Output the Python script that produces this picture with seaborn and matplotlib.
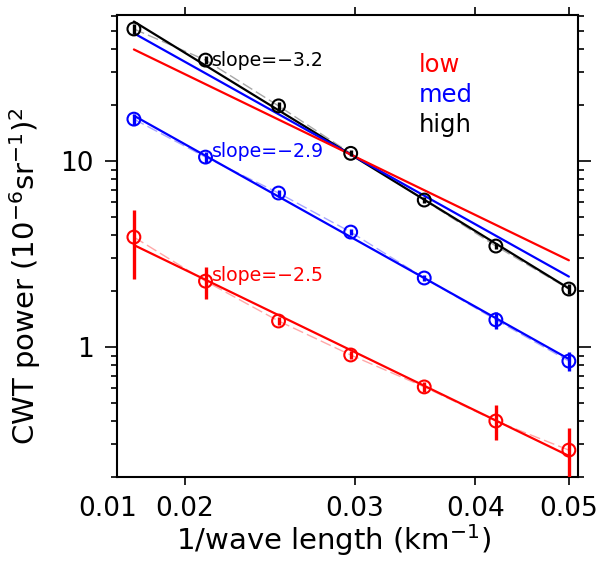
import numpy as np
import pandas as pd
import matplotlib
matplotlib.use("Agg")
import matplotlib.pyplot as plt
import seaborn as sns
from matplotlib.ticker import FixedLocator, NullLocator, LogLocator, NullFormatter
from matplotlib.transforms import ScaledTranslation

# ---------------- data ----------------
inv_wavelength = [0.0177, 0.0210, 0.0250, 0.0297, 0.0354, 0.0420, 0.0500]
power_low = [3.90, 2.26, 1.38, 0.906, 0.61, 0.40, 0.279]
err_low = [1.58, 0.44, 0.07, 0.045, 0.04, 0.085, 0.088]
power_med = [16.8, 10.5, 6.73, 4.15, 2.35, 1.40, 0.84]
err_med = [1.2, 0.7, 0.3, 0.15, 0.08, 0.15, 0.10]
power_high = [51.3, 34.9, 19.8, 11.0, 6.17, 3.49, 2.05]
err_high = [3.0, 1.8, 0.9, 0.4, 0.25, 0.12, 0.12]

series_names = ["low", "med", "high"]
slope_labels = ["slope=\u22122.5", "slope=\u22122.9", "slope=\u22123.2"]
slope_label_y = [2.41, 11.2, 34.9]

x_tick_values = [0.01702, 0.02, 0.03, 0.04, 0.05]
x_tick_labels = ["0.01", "0.02", "0.03", "0.04", "0.05"]
y_tick_values = [1, 10]
y_tick_labels = ["1", "10"]

# ---------------- style ----------------
sns.set_style("ticks")
plt.rcParams["font.family"] = ["DejaVu Sans"]
plt.rcParams["mathtext.default"] = "regular"
plt.rcParams["axes.linewidth"] = 1.5
plt.rcParams["axes.edgecolor"] = "black"
plt.rcParams["axes.labelcolor"] = "black"
plt.rcParams["text.color"] = "black"

colors = {"low": "#ff0000", "med": "#0000ff", "high": "#000000"}
light = {"low": "#ffa8a8", "med": "#a8a8ff", "high": "#a8a8a8"}

x = np.array(inv_wavelength)
powers = {"low": np.array(power_low), "med": np.array(power_med), "high": np.array(power_high)}
errs = {"low": np.array(err_low), "med": np.array(err_med), "high": np.array(err_high)}

fig = plt.figure(figsize=(6.02, 5.62), dpi=100)
ax = fig.add_axes([117 / 602, 1 - 477 / 562, 461 / 602, 462 / 562])
ax.set_xscale("log")
ax.set_yscale("log")

# power-law fits in log-log space
fits = {}
slopes = {}
for name in series_names:
    coef = np.polyfit(np.log10(x), np.log10(powers[name]), 1)
    slopes[name] = coef[0]
    fits[name] = 10 ** np.polyval(coef, np.log10(x))

for name in series_names:
    c = colors[name]
    # thin dashed line joining the measurements
    sns.lineplot(x=x, y=powers[name], ax=ax, color=light[name], lw=1.0,
                 linestyle=(0, (8, 3)), sort=False, zorder=2)
    # fitted power law
    sns.lineplot(x=x, y=fits[name], ax=ax, color=c, lw=1.6, sort=False, zorder=3)
    ax.errorbar(x, powers[name], yerr=errs[name], fmt="none", ecolor=c,
                elinewidth=2.4, capsize=0, zorder=4)
    sns.scatterplot(x=x, y=powers[name], ax=ax, marker="o", s=85,
                    facecolors="none", edgecolor=c, color=c, linewidth=1.5, zorder=5)

# slope comparison: each fitted slope anchored to the "high" fit at the middle point
anchor = fits["high"][3]
for name in ["med", "low"]:
    ref = anchor * (x / x[3]) ** slopes[name]
    sns.lineplot(x=x, y=ref, ax=ax, color=colors[name], lw=1.6, sort=False, zorder=3)

# slope annotations
for name, lab, yv in zip(series_names, slope_labels, slope_label_y):
    ax.text(x[1] * 1.015, yv, lab, color=colors[name], fontsize=13.6,
            ha="left", va="center", zorder=6)

# legend as coloured words
for i, name in enumerate(series_names):
    ax.text(0.655, 0.892 - 0.065 * i, name, color=colors[name], fontsize=17.5,
            transform=ax.transAxes, ha="left", va="center")

ax.set_xlim(0.0170, 0.0511)
ax.set_ylim(0.2, 61)

ax.xaxis.set_major_locator(FixedLocator(x_tick_values))
ax.set_xticklabels(x_tick_labels)
ax.xaxis.set_minor_locator(NullLocator())
ax.yaxis.set_major_locator(FixedLocator(y_tick_values))
ax.set_yticklabels(y_tick_labels)
ax.yaxis.set_minor_locator(LogLocator(base=10, subs=np.arange(2, 10)))
ax.yaxis.set_minor_formatter(NullFormatter())

ax.tick_params(which="both", direction="out", top=True, right=True, width=1.2,
               labelsize=19, colors="black")
ax.tick_params(axis="x", which="major", length=6, pad=8)
ax.tick_params(axis="y", which="major", length=9, pad=8)
ax.tick_params(axis="y", which="minor", length=4.5)

ax.set_xlabel("1/wave length (km$^{-1}$)", fontsize=21)
ax.xaxis.set_label_coords(0.47, -0.098)
ax.set_ylabel("CWT power (10$^{-6}$sr$^{-1}$)$^2$", fontsize=21)
ax.yaxis.set_label_coords(-0.16, 0.435)

for sp in ax.spines.values():
    sp.set_linewidth(1.5)
    sp.set_visible(True)

# first x label sits at the left edge without a tick mark
t0 = ax.xaxis.get_major_ticks()[0]
t0.tick1line.set_visible(False)
t0.tick2line.set_visible(False)
t0.label1.set_transform(t0.label1.get_transform() +
                        ScaledTranslation(-10 / 100, 0, fig.dpi_scale_trans))

fig.savefig("out.png", dpi=100)
